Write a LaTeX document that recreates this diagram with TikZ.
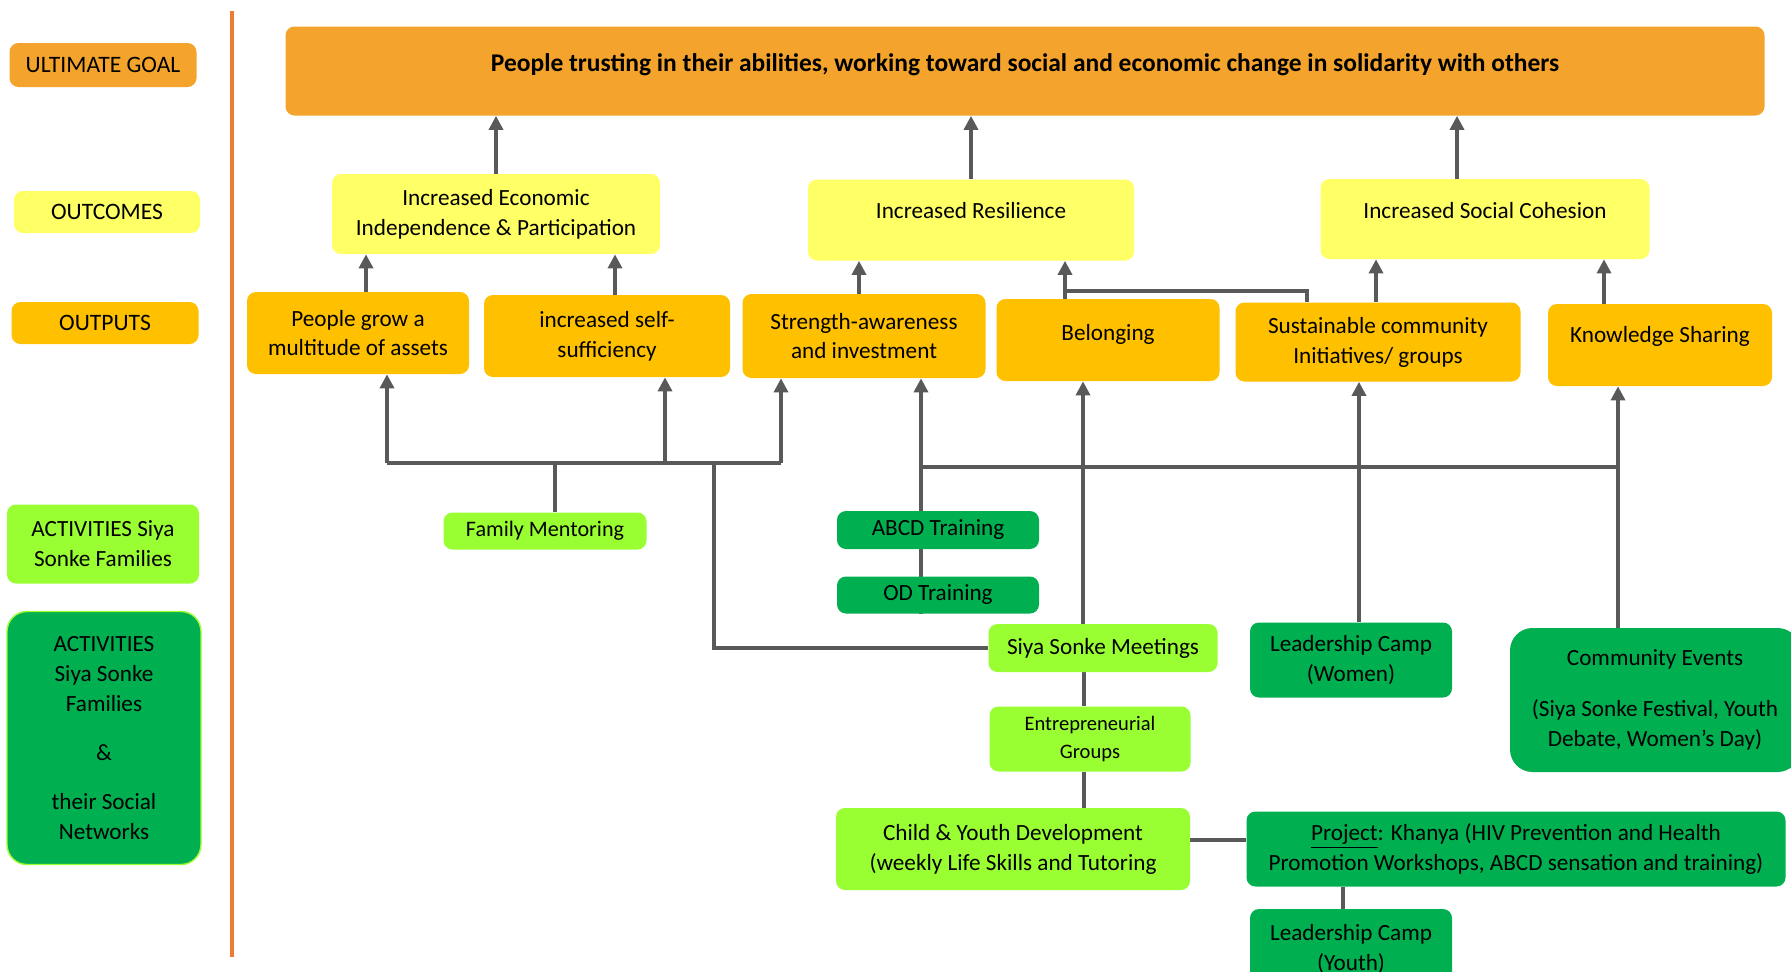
\documentclass[tikz,border=0pt]{standalone}
\usepackage{fontspec}
\setmainfont{Carlito}
\usetikzlibrary{arrows.meta,backgrounds}
\definecolor{goalorange}{RGB}{244,164,44}
\definecolor{outyellow}{RGB}{255,255,102}
\definecolor{amber}{RGB}{255,192,0}
\definecolor{actlime}{RGB}{153,255,51}
\definecolor{actgreen}{RGB}{0,176,80}
\definecolor{linkgray}{RGB}{89,89,89}
\definecolor{ruleorange}{RGB}{237,125,49}
\tikzset{
  box/.style={rounded corners=0.18cm, align=center, inner sep=2pt, font=\fontsize{13.2}{17}\selectfont},
  sz/.style 2 args={minimum width=#1*0.02cm, minimum height=#2*0.02cm},
  lifted/.style={text depth=#1*0.02cm},
  goalbox/.style={box, fill=goalorange},
  outcome/.style={box, fill=outyellow},
  output/.style={box, fill=amber},
  lightact/.style={box, fill=actlime},
  darkact/.style={box, fill=actgreen},
  link/.style={draw=linkgray, line width=1.9pt},
  arr/.style={link, -{Triangle[length=8pt,width=8pt]}},
}

\begin{document}
\begin{tikzpicture}[x=0.02cm, y=-0.02cm]
\clip (0,0) rectangle (1791,971);
\draw[ruleorange, line width=2pt] (232,11) -- (232,957);

\node[goalbox, sz={187}{44}, font=\fontsize{13.4}{17}\selectfont] (lgoal) at (103,65) {ULTIMATE GOAL};
\node[outcome, sz={186}{42}, font=\fontsize{13.4}{17}\selectfont] (loutc) at (107,212) {OUTCOMES};
\node[output, sz={187}{42}, font=\fontsize{13.4}{17}\selectfont] (loutp) at (105,323) {OUTPUTS};
\node[lightact, sz={192}{79}] (lact) at (103,544) {ACTIVITIES Siya\\Sonke Families};
\node[darkact, sz={194}{253}, rounded corners=0.4cm, draw=actlime, line width=0.8pt] (lnet) at (104,738)
  {ACTIVITIES\\Siya Sonke\\Families\\[0.38cm]\&\\[0.38cm]their Social\\Networks};

\node[goalbox, sz={1479}{89}, lifted=17, font=\fontsize{14.5}{18}\selectfont\bfseries] (goal) at (1025,71)
  {People trusting in their abilities, working toward social and economic change in solidarity with others};

\node[outcome, sz={328}{80}] (econ) at (496,214) {Increased Economic\\Independence \& Participation};
\node[outcome, sz={326}{81}, lifted=20] (resil) at (971,220) {Increased Resilience};
\node[outcome, sz={329}{80}, lifted=18] (social) at (1485,219) {Increased Social Cohesion};

\node[output, sz={222}{82}] (grow) at (358,333) {People grow a\\multitude of assets};
\node[output, sz={246}{82}] (selfsuf) at (607,336) {increased self-\\sufficiency};
\node[output, sz={243}{84}] (strength) at (864,336) {Strength-awareness\\and investment};
\node[output, sz={223}{82}, lifted=16] (belong) at (1108,340) {Belonging};
\node[output, sz={285}{79}] (sust) at (1378,342) {Sustainable community\\Initiatives/ groups};
\node[output, sz={224}{82}, lifted=21] (know) at (1660,345) {Knowledge Sharing};

\node[lightact, sz={203}{37}, font=\fontsize{12.6}{17}\selectfont] (famment) at (545,531) {Family Mentoring};
\node[darkact, sz={202}{38}] (abcd) at (938,530) {ABCD Training};
\node[darkact, sz={202}{37}] (od) at (938,595) {OD Training};
\node[lightact, sz={229}{48}] (meet) at (1103,648) {Siya Sonke Meetings};
\node[lightact, sz={201}{65}, font=\fontsize{11.7}{15.5}\selectfont] (entre) at (1090,739) {Entrepreneurial\\Groups};
\node[lightact, sz={354}{82}] (child) at (1013,849) {Child \& Youth Development\\(weekly Life Skills and Tutoring};
\node[darkact, sz={202}{75}] (wcamp) at (1351,660) {Leadership Camp\\(Women)};
\node[darkact, sz={290}{144}, rounded corners=0.45cm] (events) at (1655,700)
  {Community Events\\[0.42cm](Siya Sonke Festival, Youth\\Debate, Women’s Day)};
\node[darkact, sz={539}{75}] (proj) at (1516,849)
  {\underline{Project}: Khanya (HIV Prevention and Health\\Promotion Workshops, ABCD sensation and training)};
\node[darkact, sz={202}{80}] (ycamp) at (1351,949) {Leadership Camp\\(Youth)};

\begin{scope}[on background layer]
\fill[white] (0,0) rectangle (1791,971);
\draw[arr] (econ.north) -- (econ.north |- goal.south);
\draw[arr] (resil.north) -- (resil.north |- goal.south);
\draw[arr] (1457,0 |- social.north) -- (1457,0 |- goal.south);

\draw[arr] (366,0 |- grow.north) -- (366,0 |- econ.south);
\draw[arr] (615,0 |- selfsuf.north) -- (615,0 |- econ.south);
\draw[arr] (859,0 |- strength.north) -- (859,0 |- resil.south);
\draw[arr] (1065,0 |- belong.north) -- (1065,0 |- resil.south);
\draw[arr] (1376,0 |- sust.north) -- (1376,0 |- social.south);
\draw[arr] (1604,0 |- know.north) -- (1604,0 |- social.south);
\coordinate (bjoin) at (1065,291);
\draw[link] (1307,0 |- sust.north) |- (bjoin);

\coordinate (lbus) at (0,463);
\draw[arr] (387,0 |- lbus) -- (387,0 |- grow.south);
\draw[arr] (665,0 |- lbus) -- (665,0 |- selfsuf.south);
\draw[arr] (781,0 |- lbus) -- (781,0 |- strength.south);
\draw[link] (387,0 |- lbus) -- (781,0 |- lbus);
\draw[link] (555,0 |- famment.north) -- (555,0 |- lbus);
\draw[link] (meet.west) -| (714,0 |- lbus);

\coordinate (mbus) at (0,467);
\draw[arr] (921,0 |- od.south) -- (921,0 |- strength.south);
\draw[arr] (1083,0 |- meet.north) -- (1083,0 |- belong.south);
\draw[arr] (1359,0 |- wcamp.north) -- (1359,0 |- sust.south);
\draw[arr] (1618,0 |- events.north) -- (1618,0 |- know.south);
\draw[link] (921,0 |- mbus) -- (1618,0 |- mbus);

\draw[link] (1084,0 |- meet.south) -- (1084,0 |- entre.north);
\draw[link] (1084,0 |- entre.south) -- (1084,0 |- child.north);
\draw[link] (child.east |- 0,840) -- (proj.west |- 0,840);
\draw[link] (1343,0 |- proj.south) -- (1343,0 |- ycamp.north);
\end{scope}
\end{tikzpicture}
\end{document}
